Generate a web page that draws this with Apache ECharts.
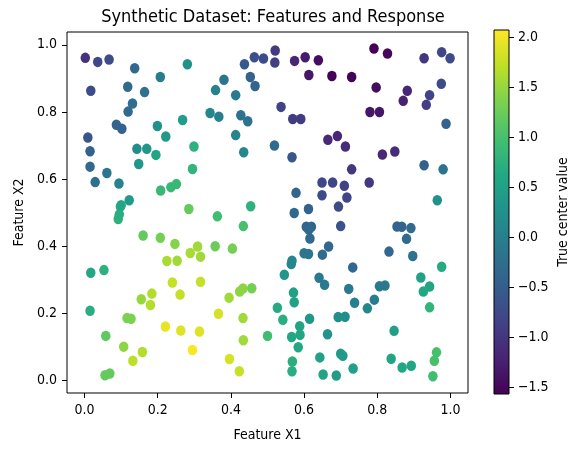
<!DOCTYPE html>
<html>
<head>
<meta charset="utf-8">
<script src="https://cdn.jsdelivr.net/npm/echarts@6/dist/echarts.min.js"></script>
<style>
  html, body { margin: 0; padding: 0; background: #fff; }
  #chart { width: 576px; height: 451px; }
</style>
</head>
<body>
<div id="chart"></div>
<script>
// values, one entry per dot
var featureX1 = [
  0.002, 0.036, 0.067, 0.017, 0.137, 0.118, 0.164, 0.131, 0.119, 0.087,
  0.102, 0.207, 0.281, 0.199, 0.222, 0.268, 0.009, 0.015, 0.015, 0.029,
  0.061, 0.094, 0.143, 0.170, 0.148, 0.195, 0.299, 0.295, 0.122, 0.098,
  0.092, 0.095, 0.208, 0.236, 0.251, 0.285, 0.160, 0.207, 0.247, 0.309,
  0.289, 0.317, 0.225, 0.253, 0.017, 0.053, 0.015, 0.058, 0.056, 0.069,
  0.107, 0.116, 0.127, 0.132, 0.158, 0.155, 0.184, 0.180, 0.240, 0.261,
  0.317, 0.221, 0.263, 0.314, 0.295, 0.366, 0.396, 0.423, 0.434, 0.433,
  0.395, 0.424, 0.433, 0.457, 0.357, 0.404, 0.363, 0.434, 0.454, 0.358,
  0.381, 0.413, 0.437, 0.464, 0.489, 0.453, 0.466, 0.521, 0.520, 0.343,
  0.367, 0.427, 0.446, 0.413, 0.435, 0.519, 0.537, 0.574, 0.603, 0.639,
  0.613, 0.676, 0.730, 0.569, 0.591, 0.567, 0.665, 0.691, 0.713, 0.730,
  0.791, 0.828, 0.797, 0.780, 0.806, 0.882, 0.871, 0.928, 0.976, 0.999,
  0.975, 0.943, 0.934, 0.988, 0.814, 0.848, 0.928, 0.980, 0.778, 0.649,
  0.678, 0.710, 0.717, 0.649, 0.578, 0.694, 0.612, 0.573, 0.964, 0.700,
  0.606, 0.620, 0.613, 0.616, 0.854, 0.867, 0.892, 0.880, 0.832, 0.897,
  0.667, 0.650, 0.600, 0.612, 0.567, 0.565, 0.733, 0.976, 0.546, 0.641,
  0.656, 0.722, 0.806, 0.821, 0.919, 0.943, 0.926, 0.792, 0.738, 0.773,
  0.943, 0.571, 0.573, 0.527, 0.542, 0.615, 0.693, 0.712, 0.588, 0.589,
  0.566, 0.500, 0.664, 0.846, 0.584, 0.643, 0.700, 0.706, 0.568, 0.567,
  0.652, 0.688, 0.734, 0.838, 0.868, 0.893, 0.962, 0.956, 0.952, 0.100
];
var featureX2 = [
  0.961, 0.949, 0.956, 0.863, 0.930, 0.875, 0.859, 0.825, 0.801, 0.762,
  0.750, 0.904, 0.942, 0.758, 0.727, 0.776, 0.724, 0.683, 0.637, 0.591,
  0.618, 0.587, 0.690, 0.690, 0.645, 0.672, 0.697, 0.630, 0.537, 0.518,
  0.481, 0.495, 0.566, 0.576, 0.585, 0.511, 0.432, 0.425, 0.407, 0.399,
  0.380, 0.369, 0.356, 0.357, 0.321, 0.329, 0.208, 0.133, 0.016, 0.021,
  0.101, 0.186, 0.184, 0.059, 0.085, 0.242, 0.259, 0.225, 0.292, 0.256,
  0.294, 0.161, 0.149, 0.146, 0.091, 0.199, 0.064, 0.028, 0.120, 0.186,
  0.247, 0.265, 0.274, 0.275, 0.400, 0.393, 0.489, 0.460, 0.519, 0.865,
  0.896, 0.850, 0.942, 0.963, 0.959, 0.904, 0.877, 0.983, 0.947, 0.797,
  0.786, 0.790, 0.772, 0.731, 0.680, 0.700, 0.815, 0.952, 0.963, 0.954,
  0.910, 0.907, 0.904, 0.779, 0.779, 0.665, 0.717, 0.728, 0.697, 0.629,
  0.989, 0.974, 0.873, 0.800, 0.800, 0.863, 0.833, 0.960, 0.978, 0.960,
  0.884, 0.850, 0.821, 0.765, 0.673, 0.682, 0.641, 0.629, 0.590, 0.590,
  0.590, 0.580, 0.545, 0.552, 0.559, 0.518, 0.511, 0.499, 0.537, 0.460,
  0.458, 0.458, 0.450, 0.423, 0.459, 0.458, 0.454, 0.422, 0.384, 0.371,
  0.399, 0.375, 0.379, 0.377, 0.357, 0.347, 0.337, 0.339, 0.315, 0.306,
  0.285, 0.273, 0.281, 0.283, 0.307, 0.280, 0.265, 0.241, 0.232, 0.215,
  0.218, 0.262, 0.233, 0.217, 0.181, 0.184, 0.189, 0.190, 0.162, 0.136,
  0.130, 0.133, 0.138, 0.148, 0.099, 0.069, 0.080, 0.074, 0.057, 0.028,
  0.018, 0.015, 0.036, 0.065, 0.039, 0.044, 0.084, 0.059, 0.013, 0.522
];
var centerValue = [
  -1.05, -0.80, -0.75, -0.75, -0.35, -0.30, -0.20, -0.25, -0.30, -0.40,
  -0.40, -0.05, 0.25, 0.25, 0.40, 0.45, -0.60, -0.45, -0.35, -0.25,
  -0.15, 0.05, 0.20, 0.35, 0.35, 0.55, 0.75, 0.80, 0.40, 0.65,
  0.75, 0.70, 0.85, 0.85, 0.85, 1.20, 1.20, 1.30, 1.40, 1.55,
  1.60, 1.55, 1.60, 1.55, 0.60, 0.75, 0.70, 1.15, 1.20, 1.20,
  1.45, 1.35, 1.35, 1.70, 1.65, 1.50, 1.65, 1.65, 1.75, 1.75,
  1.75, 1.95, 1.90, 1.90, 2.05, 1.85, 1.85, 1.75, 1.55, 1.55,
  1.55, 1.45, 1.45, 1.30, 1.25, 1.30, 0.95, 1.00, 0.75, 0.05,
  -0.15, -0.10, -0.55, -0.70, -0.75, -0.45, -0.40, -0.95, -0.90, 0.10,
  0.00, -0.20, -0.20, 0.10, 0.10, -0.30, -0.85, -1.20, -1.30, -1.45,
  -1.35, -1.55, -1.55, -0.95, -0.95, -0.60, -1.15, -1.20, -1.10, -1.00,
  -1.55, -1.50, -1.45, -1.35, -1.35, -1.20, -1.25, -1.00, -0.80, -0.75,
  -0.75, -0.85, -0.90, -0.45, -1.15, -1.10, -0.45, -0.20, -1.00, -0.80,
  -0.80, -0.85, -0.80, -0.75, -0.40, -0.75, -0.45, -0.35, 0.25, -0.65,
  -0.40, -0.40, -0.35, -0.35, -0.40, -0.40, -0.30, -0.30, -0.35, -0.20,
  -0.35, -0.30, -0.15, -0.15, 0.10, 0.10, -0.35, 0.65, 0.30, -0.10,
  -0.10, -0.10, -0.10, -0.10, 0.50, 0.55, 0.60, -0.05, 0.00, 0.10,
  0.80, 0.50, 0.50, 0.65, 0.70, 0.35, 0.20, 0.20, 0.55, 0.55,
  0.60, 0.95, 0.30, 0.45, 0.60, 0.50, 0.40, 0.40, 0.70, 0.70,
  0.55, 0.45, 0.50, 0.55, 0.60, 0.60, 1.00, 1.00, 0.95, 0.60
];
var colorbarRange = [-1.57, 2.07];
var xRange = [-0.048, 1.048];
var yRange = [-0.037, 1.038];

var viridis = ['#440154', '#482475', '#414487', '#355f8d', '#2a788e', '#21918c',
               '#22a884', '#44bf70', '#7ad151', '#bddf26', '#fde725'];

var points = [];
for (var i = 0; i < featureX1.length; i++) {
    points.push([featureX1[i], featureX2[i], centerValue[i]]);
}

var font = "'DejaVu Sans Condensed', 'DejaVu Sans', sans-serif";
var oneDecimal = function (v) {
    return v.toFixed(1).replace('-', '\u2212');
};

// colorbar fill, top = max
var stops = [];
for (var k = 0; k < viridis.length; k++) {
    stops.push({ offset: k / (viridis.length - 1), color: viridis[viridis.length - 1 - k] });
}

var tickStyle = { show: true, inside: false, length: 5, lineStyle: { color: '#000' } };
var noLine = { show: false, onZero: false };

var chart = echarts.init(document.getElementById('chart'), null, { renderer: 'canvas' });
chart.setOption({
    animation: false,
    backgroundColor: '#fff',
    textStyle: { fontFamily: font, color: '#000' },
    title: {
        text: 'Synthetic Dataset: Features and Response',
        left: 268,
        top: 3,
        textAlign: 'center',
        textStyle: { fontFamily: font, fontSize: 18, fontWeight: 'normal', color: '#000' }
    },
    graphic: [{
        type: 'rect',
        left: 494,
        top: 30,
        z: 0,
        shape: { width: 15, height: 364 },
        style: { fill: new echarts.graphic.LinearGradient(0, 0, 0, 1, stops) }
    }],
    grid: [
        { left: 67, top: 32, width: 401, height: 361, show: true, borderColor: '#000', borderWidth: 1, backgroundColor: 'transparent' },
        { left: 494, top: 30, width: 15, height: 364, show: true, borderColor: '#000', borderWidth: 1, backgroundColor: 'transparent', z: 5 }
    ],
    xAxis: [{
        type: 'value',
        gridIndex: 0,
        min: xRange[0],
        max: xRange[1],
        splitNumber: 5,
        name: 'Feature X1',
        nameLocation: 'middle',
        nameGap: 35,
        nameTextStyle: { fontFamily: font, fontSize: 14, color: '#000' },
        axisLine: noLine,
        axisTick: tickStyle,
        axisLabel: { fontFamily: font, fontSize: 14, color: '#000', margin: 10, showMinLabel: false, showMaxLabel: false, formatter: oneDecimal },
        splitLine: { show: false }
    }, {
        type: 'value',
        gridIndex: 1,
        min: 0,
        max: 1,
        show: false
    }],
    yAxis: [{
        type: 'value',
        gridIndex: 0,
        min: yRange[0],
        max: yRange[1],
        splitNumber: 5,
        name: 'Feature X2',
        nameLocation: 'middle',
        nameGap: 35,
        nameTextStyle: { fontFamily: font, fontSize: 14, color: '#000' },
        axisLine: noLine,
        axisTick: tickStyle,
        axisLabel: { fontFamily: font, fontSize: 14, color: '#000', margin: 10, showMinLabel: false, showMaxLabel: false, formatter: oneDecimal },
        splitLine: { show: false }
    }, {
        type: 'value',
        gridIndex: 1,
        position: 'right',
        min: colorbarRange[0],
        max: colorbarRange[1],
        splitNumber: 7,
        name: 'True center value',
        nameLocation: 'middle',
        nameRotate: 90,
        nameGap: 47,
        nameTextStyle: { fontFamily: font, fontSize: 14, color: '#000' },
        axisLine: noLine,
        axisTick: tickStyle,
        axisLabel: { fontFamily: font, fontSize: 14, color: '#000', margin: 9, showMinLabel: false, showMaxLabel: false, formatter: oneDecimal },
        splitLine: { show: false }
    }],
    visualMap: {
        type: 'continuous',
        show: false,
        dimension: 2,
        seriesIndex: 0,
        min: colorbarRange[0],
        max: colorbarRange[1],
        inRange: { color: viridis }
    },
    series: [{
        type: 'scatter',
        xAxisIndex: 0,
        yAxisIndex: 0,
        symbol: 'circle',
        symbolSize: [9.5, 10.5],
        itemStyle: { opacity: 1 },
        data: points
    }]
});
</script>
</body>
</html>
